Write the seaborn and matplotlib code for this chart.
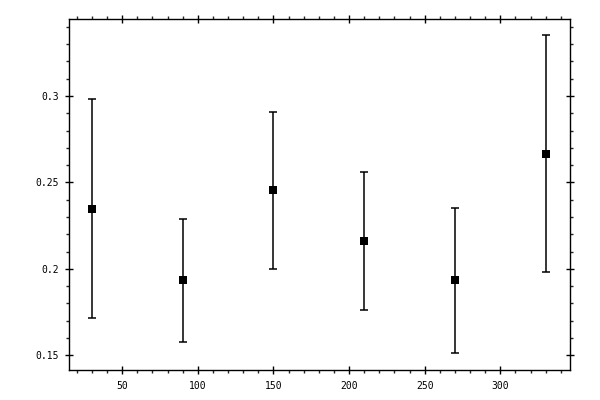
import numpy as np
import pandas as pd
import matplotlib
matplotlib.use('Agg')
import matplotlib.pyplot as plt
import seaborn as sns
from matplotlib.ticker import MultipleLocator

# values
angle = [30, 90, 150, 210, 270, 330]
mean_val = [0.2344, 0.1933, 0.2456, 0.2159, 0.1933, 0.2662]
err_lo = [0.0631, 0.0358, 0.0459, 0.0399, 0.0422, 0.0682]
err_hi = [0.0637, 0.0353, 0.0450, 0.0399, 0.0417, 0.0689]

df = pd.DataFrame({'angle': angle, 'value': mean_val})

sns.set_style('ticks')
plt.rcParams['font.family'] = ['DejaVu Sans Mono', 'DejaVu Sans']

fig = plt.figure(figsize=(6, 4), dpi=100)
ax = fig.add_axes([0.1155, 0.075, 0.835, 0.877])

# error bars first, then square markers on top
ax.errorbar(df['angle'], df['value'], yerr=[err_lo, err_hi], fmt='none',
            ecolor='black', elinewidth=1.1, capsize=2.8, capthick=1.1, zorder=2)
sns.scatterplot(data=df, x='angle', y='value', marker='s', s=34,
                color='black', edgecolor='black', linewidth=0, ax=ax, zorder=3)

ax.set_xlim(15, 346.3)
ax.set_ylim(0.1415, 0.3444)
ax.set_xlabel('')
ax.set_ylabel('')

ax.xaxis.set_major_locator(MultipleLocator(50))
ax.xaxis.set_minor_locator(MultipleLocator(10))
ax.yaxis.set_major_locator(MultipleLocator(0.05))
ax.yaxis.set_minor_locator(MultipleLocator(0.01))
ax.yaxis.set_major_formatter(plt.FuncFormatter(lambda v, p: f'{v:g}'))

for side in ['top', 'right', 'bottom', 'left']:
    ax.spines[side].set_visible(True)
    ax.spines[side].set_linewidth(1.0)
    ax.spines[side].set_color('black')

ax.tick_params(which='major', direction='inout', length=5.5, width=1,
               top=True, right=True, labelsize=7, colors='black', pad=5)
ax.tick_params(which='minor', direction='out', length=2.3, width=1,
               top=True, right=True)

fig.savefig('out.png', dpi=100)
